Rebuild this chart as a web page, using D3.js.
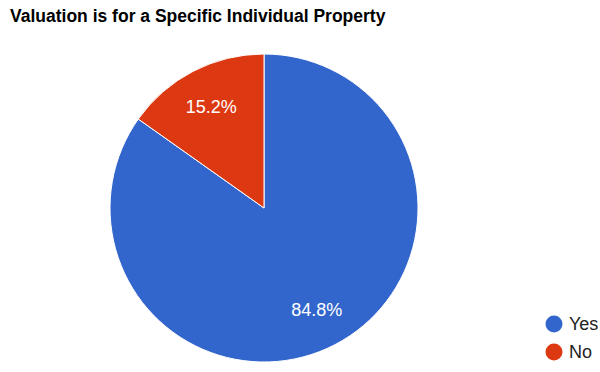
<!DOCTYPE html>
<html>
<head>
<meta charset="utf-8">
<script src="https://cdn.jsdelivr.net/npm/d3@7"></script>
<style>
  body { margin: 0; background: #fff; }
  svg { display: block; font-family: Arial, "Liberation Sans", sans-serif; }
</style>
</head>
<body>
<svg class="chart"></svg>
<script>
var categories = ["Yes", "No"];
var values = [84.8, 15.2];
var colors = ["#3366cc", "#dc3912"];
var titleText = "Valuation is for a Specific Individual Property";

var width = 600;
var height = 372;
var cx = 264, cy = 208, radius = 154;

var chart = d3.select(".chart")
    .attr("width", width)
    .attr("height", height);

chart.append("text")
    .attr("x", 10)
    .attr("y", 22)
    .attr("font-size", 17.5)
    .attr("font-weight", "bold")
    .attr("fill", "#000")
    .text(titleText);

var color = d3.scaleOrdinal().domain(categories).range(colors);

var pie = d3.pie()
    .sort(null)
    .value(function(d, i) { return values[i]; });

var arc = d3.arc().innerRadius(0).outerRadius(radius);
var labelArc = d3.arc().innerRadius(radius * 0.745).outerRadius(radius * 0.745);

var g = chart.append("g").attr("transform", "translate(" + cx + "," + cy + ")");

var arcs = pie(categories);

g.selectAll("path.slice")
    .data(arcs)
    .enter()
    .append("path")
    .attr("class", "slice")
    .attr("d", arc)
    .attr("fill", function(d) { return color(d.data); })
    .attr("stroke", "#fff")
    .attr("stroke-width", 1);

var total = d3.sum(values);
g.selectAll("text.lbl")
    .data(arcs)
    .enter()
    .append("text")
    .attr("class", "lbl")
    .attr("transform", function(d) { return "translate(" + labelArc.centroid(d) + ")"; })
    .attr("text-anchor", "middle")
    .attr("dy", "0.36em")
    .attr("font-size", 18)
    .attr("fill", "#fff")
    .text(function(d) { return (d.value / total * 100).toFixed(1) + "%"; });

// legend
var legend = chart.append("g");
var item = legend.selectAll("g")
    .data(categories)
    .enter()
    .append("g")
    .attr("transform", function(d, i) { return "translate(554," + (324 + i * 28) + ")"; });

item.append("circle")
    .attr("r", 8.5)
    .attr("fill", function(d) { return color(d); });

item.append("text")
    .attr("x", 15)
    .attr("dy", "0.36em")
    .attr("font-size", 18)
    .attr("fill", "#222")
    .text(function(d) { return d; });
</script>
</body>
</html>
